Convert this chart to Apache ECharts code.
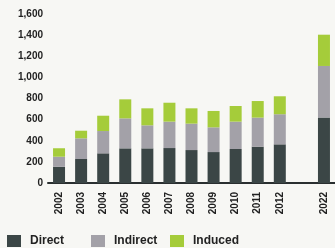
<!DOCTYPE html>
<html><head><meta charset="utf-8">
<script src="https://cdn.jsdelivr.net/npm/echarts@6/dist/echarts.min.js"></script>
<style>html,body{margin:0;padding:0;background:#f7f7f4;}#c{width:335px;height:248px;}</style>
</head><body><div id="c"></div>
<script>
const categories = ['2002','2003','2004','2005','2006','2007','2008','2009','2010','2011','2012','','2022'];
const direct   = [154, 227, 281, 328, 328, 331, 312, 293, 322, 344, 366, null, 619];
const indirect = [ 95, 196, 211, 284, 218, 250, 250, 234, 259, 275, 285, null, 489];
const induced  = [ 80,  72, 145, 180, 161, 179, 145, 155, 148, 157, 170, null, 296];
const yTicks = [0, 200, 400, 600, 800, 1000, 1200, 1400, 1600];

const chart = echarts.init(document.getElementById('c'));
const font = 'Liberation Sans, Arial, sans-serif';
function mk(name, data, color){
  return {name, type:'bar', stack:'t', data, barWidth:12,
    itemStyle:{color}, emphasis:{disabled:true}};
}
function lg(name, left){
  return {data:[name], left, top:235, itemWidth:14, itemHeight:12, itemGap:0,
    icon:'rect', padding:0,
    textStyle:{fontFamily:font, fontWeight:'bold', fontSize:12, color:'#222', padding:[0,0,0,4]}};
}
chart.setOption({
  backgroundColor:'#f7f7f4',
  animation:false,
  grid:{left:48, right:-4, top:14, bottom:65},
  legend:[lg('Direct',7), lg('Indirect',91), lg('Induced',170)],
  xAxis:{type:'category', data:categories,
    axisLine:{lineStyle:{color:'#2a2f30', width:2}},
    axisTick:{show:false},
    axisLabel:{rotate:90, interval:0, margin:9, fontFamily:font, fontWeight:'bold', fontSize:10, color:'#222'}},
  yAxis:{type:'value', min:yTicks[0], max:yTicks[yTicks.length-1], interval:200,
    splitLine:{show:false}, axisLine:{show:false}, axisTick:{show:false},
    axisLabel:{margin:5, fontFamily:font, fontWeight:'bold', fontSize:10, color:'#222',
      formatter:v=>v.toLocaleString('en-US')}},
  series:[mk('Direct',direct,'#3b4646'), mk('Indirect',indirect,'#a3a1a8'), mk('Induced',induced,'#a5cc3a')]
});
</script></body></html>
